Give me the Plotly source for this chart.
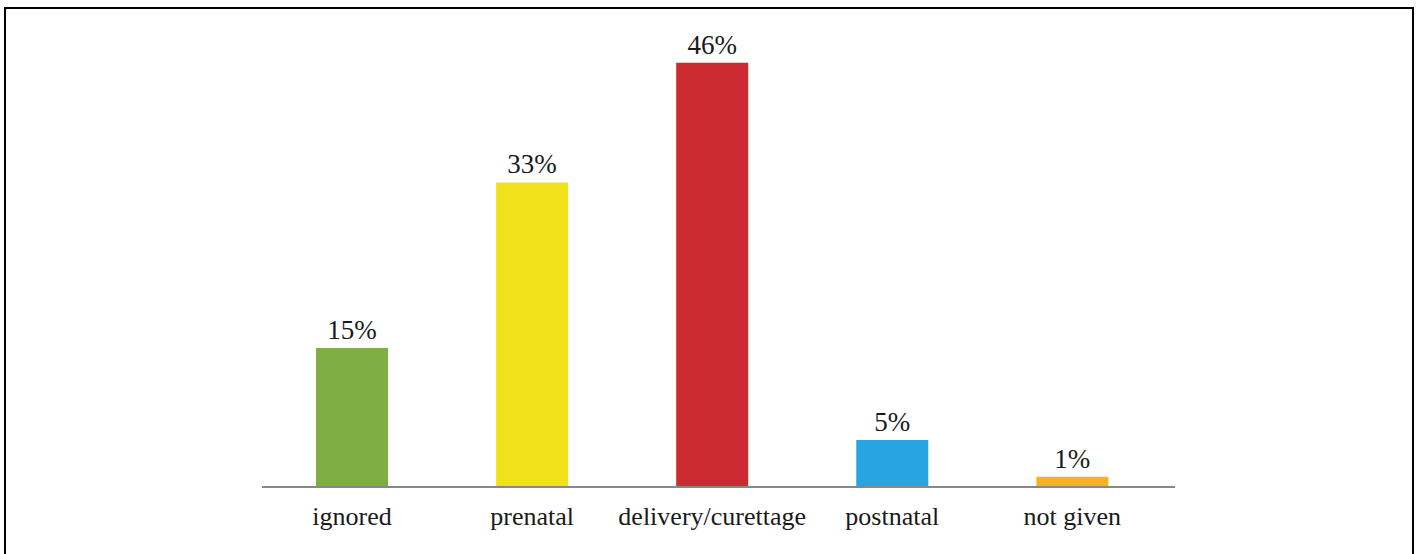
import plotly.graph_objects as go

categories = ["ignored", "prenatal", "delivery/curettage", "postnatal", "not given"]
values = [15, 33, 46, 5, 1]
labels = ["15%", "33%", "46%", "5%", "1%"]
colors = ["#7FAE45", "#F1E11B", "#CC2B32", "#28A4E2", "#F0B522"]

fig = go.Figure(go.Bar(
    x=categories, y=values, text=labels, textposition="outside",
    marker=dict(color=colors, line=dict(width=0)),
    width=0.4, cliponaxis=False,
    textfont=dict(family="Liberation Serif", size=27, color="#1a1a1a"),
))

fig.update_layout(
    width=1418, height=554,
    margin=dict(l=262, r=1418 - 1175, t=26, b=68),
    paper_bgcolor="white", plot_bgcolor="white",
    showlegend=False,
    xaxis=dict(range=[-0.5, 4.57], showline=True, linecolor="#888", linewidth=1.5,
               ticks="", ticklabelstandoff=6,
               tickfont=dict(family="Liberation Serif", size=26, color="#1a1a1a"),
               showgrid=False),
    yaxis=dict(range=[0, 50], visible=False, showgrid=False, zeroline=False),
    uniformtext=dict(mode=False),
    shapes=[dict(type="rect", xref="paper", yref="paper",
                 x0=(5 - 262) / 913, x1=(1413 - 262) / 913,
                 y0=(486 - 570) / 460, y1=(486 - 8) / 460,
                 line=dict(color="black", width=2), fillcolor="rgba(0,0,0,0)")],
)
fig.write_html("out.html")
